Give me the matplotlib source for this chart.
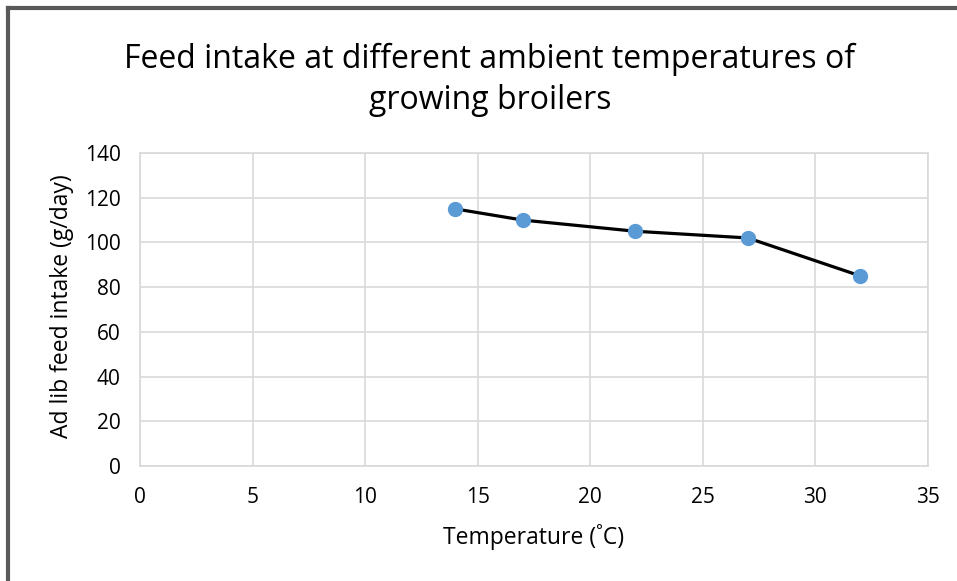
import matplotlib.pyplot as plt
from matplotlib.lines import Line2D

plt.rcParams['font.family'] = ['Open Sans', 'DejaVu Sans']

temperature = [14, 17, 22, 27, 32]
feed_intake = [115, 110, 105, 102, 85]
x_ticks = [0, 5, 10, 15, 20, 25, 30, 35]
y_ticks = [0, 20, 40, 60, 80, 100, 120, 140]

W, H = 957, 581
fig = plt.figure(figsize=(W / 100, H / 100), dpi=100)
ax = fig.add_axes([140 / W, 1 - 466 / H, (928 - 140) / W, (466 - 153) / H])

ax.plot(temperature, feed_intake, color='black', linewidth=2.3,
        marker='o', markersize=10, markerfacecolor='#5B9BD5',
        markeredgecolor='#5B9BD5', zorder=3)

ax.set_xlim(0, 35)
ax.set_ylim(0, 140)
ax.set_xticks(x_ticks)
ax.set_yticks(y_ticks)
ax.grid(True, color='#D9D9D9', linewidth=1.2)
ax.set_axisbelow(True)
for s in ax.spines.values():
    s.set_color('#D9D9D9')
    s.set_linewidth(1.2)
ax.tick_params(length=0, labelsize=15)
ax.tick_params(axis='x', pad=15)
ax.tick_params(axis='y', pad=14)

fig.text(62 / W, 1 - 306 / H, 'Ad lib feed intake (g/day)', rotation=90,
         ha='center', va='center', fontsize=16.5)
fig.text(534 / W, 1 - 537 / H, 'Temperature (˚C)', ha='center', va='center',
         fontsize=16.5)
fig.text(490 / W, 1 - 80 / H,
         'Feed intake at different ambient temperatures of\ngrowing broilers',
         ha='center', va='center', fontsize=23, linespacing=1.3)

# chart frame (only left and top edges visible)
fig.add_artist(Line2D([8 / W, 8 / W], [0, 1 - 8 / H], color='#595959',
                      linewidth=3, transform=fig.transFigure))
fig.add_artist(Line2D([8 / W, 1], [1 - 8 / H, 1 - 8 / H], color='#595959',
                      linewidth=3, transform=fig.transFigure))

fig.savefig('out.png', dpi=100)
